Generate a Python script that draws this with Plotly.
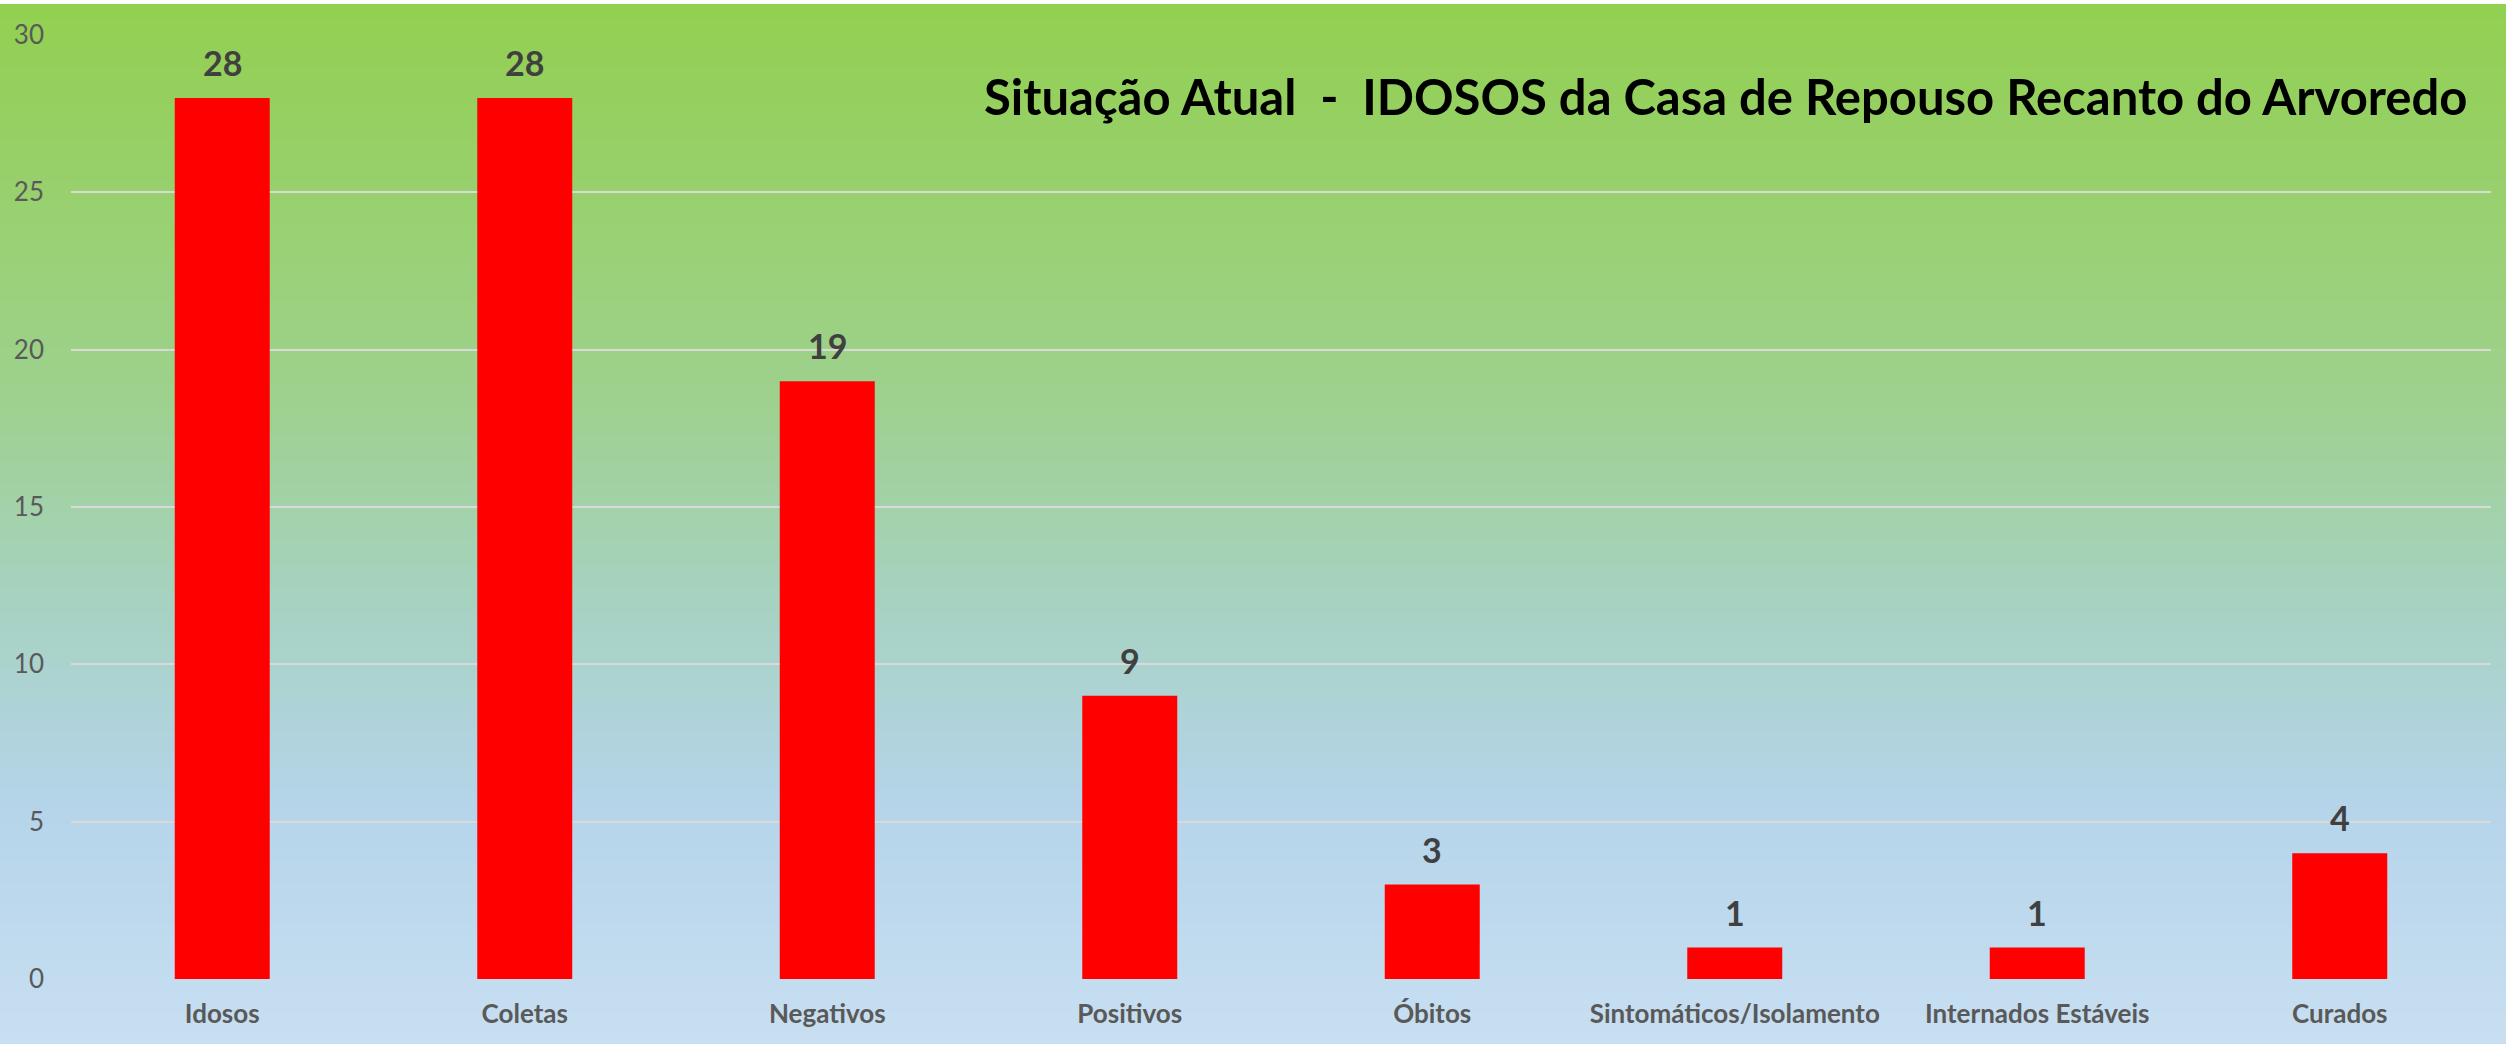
import plotly.graph_objects as go

categories = ["Idosos", "Coletas", "Negativos", "Positivos", "Óbitos",
              "Sintomáticos/Isolamento", "Internados Estáveis", "Curados"]
values = [28, 28, 19, 9, 3, 1, 1, 4]
y_ticks = [0, 5, 10, 15, 20, 25, 30]
title_text = "Situação Atual  -  IDOSOS da Casa de Repouso Recanto do Arvoredo"

W, H = 2506, 1044
L, R, T, B = 71, 15, 35, 65

fig = go.Figure()
fig.add_trace(go.Bar(
    x=categories, y=values,
    marker=dict(color="#FF0000", line=dict(width=0)),
    hoverinfo="x+y",
))

# data labels
for c, v in zip(categories, values):
    fig.add_annotation(x=c, y=v, text=f"<b>{v}</b>", showarrow=False,
                       yanchor="bottom", yshift=13,
                       font=dict(family="Lato", size=34, color="#404040"))

fig.add_annotation(xref="paper", yref="paper", x=0.991, y=0.935,
                   xanchor="right", yanchor="middle", showarrow=False,
                   text=f"<b>{title_text}</b>",
                   font=dict(family="Lato", size=49, color="#000000"))

# gradient background via stacked bands
stops = [(0.0, (146, 208, 80)), (0.38, (158, 209, 142)), (0.57, (166, 210, 192)),
         (0.77, (181, 212, 234)), (1.0, (200, 223, 241))]

def col_at(f):
    for (f0, c0), (f1, c1) in zip(stops[:-1], stops[1:]):
        if f0 <= f <= f1:
            t = (f - f0) / (f1 - f0) if f1 > f0 else 0
            return tuple(round(a + (b - a) * t) for a, b in zip(c0, c1))
    return stops[-1][1]

plot_w = W - L - R
plot_h = H - T - B
n = 200
top_px = 4
shapes = []
for i in range(n):
    y0px = top_px + (H - top_px) * i / n
    y1px = top_px + (H - top_px) * (i + 1) / n + 1
    f = (i + 0.5) / n
    r, g, b = col_at(f)
    shapes.append(dict(
        type="rect", xref="paper", yref="paper", layer="below",
        x0=-L / plot_w - 0.01, x1=1 + R / plot_w + 0.01,
        y0=(H - B - y1px) / plot_h, y1=(H - B - y0px) / plot_h,
        fillcolor=f"rgb({r},{g},{b})", line=dict(width=0),
    ))

fig.update_layout(
    width=W, height=H,
    margin=dict(l=L, r=R, t=T, b=B),
    paper_bgcolor="white", plot_bgcolor="rgba(0,0,0,0)",
    shapes=shapes,
    bargap=0.686,
    showlegend=False,
    font=dict(family="Lato"),
)
fig.update_yaxes(range=[0, 30], tickvals=y_ticks, showgrid=True,
                 gridcolor="#D9D9D9", gridwidth=2, zeroline=False,
                 ticks="", ticklabelstandoff=26,
                 tickfont=dict(family="Lato", size=26, color="#595959"),
                 showline=False, fixedrange=True)
fig.update_xaxes(showgrid=False, showline=False, ticks="",
                 ticklabelstandoff=17,
                 tickfont=dict(family="Lato", size=26, color="#595959", weight="bold"),
                 fixedrange=True)

fig.write_html("out.html",
               config={"displayModeBar": False},
               post_script="document.body.style.margin='0';document.body.style.overflow='hidden';")
